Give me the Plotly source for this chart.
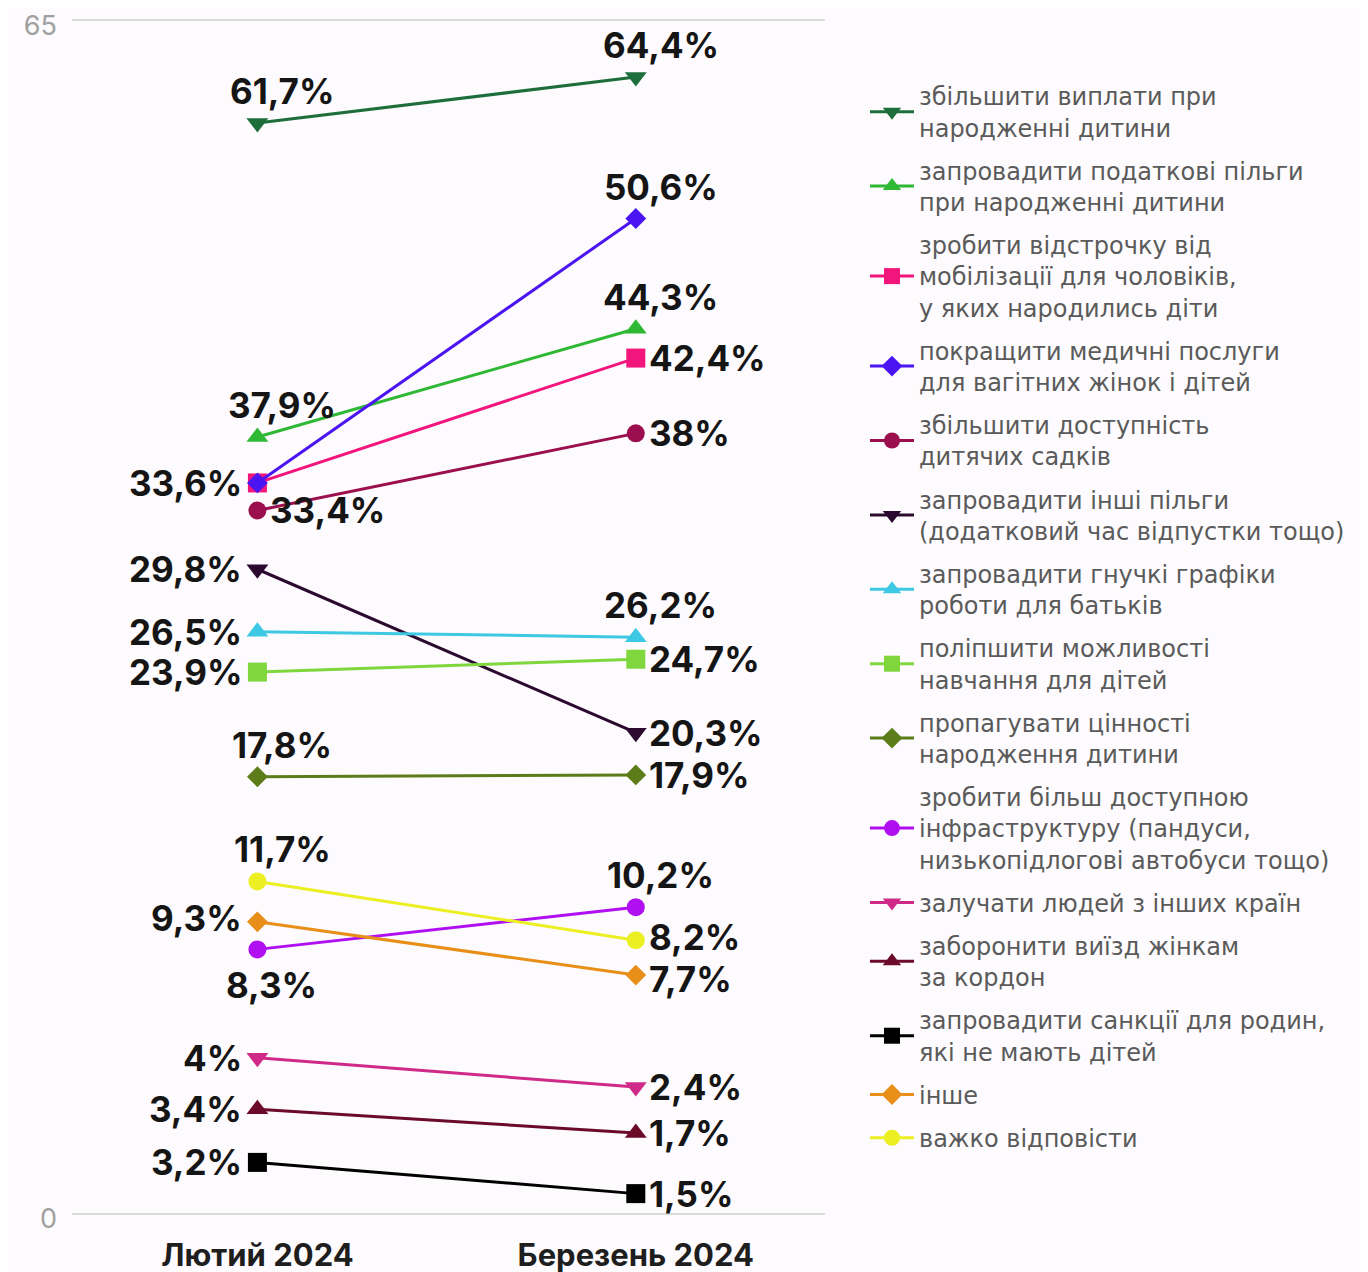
import plotly.graph_objects as go

# ---------------- data ----------------
months = ["Лютий 2024", "Березень 2024"]

series_names = [
    "збільшити виплати при<br>народженні дитини",
    "запровадити податкові пільги<br>при народженні дитини",
    "зробити відстрочку від<br>мобілізації для чоловіків,<br>у яких народились діти",
    "покращити медичні послуги<br>для вагітних жінок і дітей",
    "збільшити доступність<br>дитячих садків",
    "запровадити інші пільги<br>(додатковий час відпустки тощо)",
    "запровадити гнучкі графіки<br>роботи для батьків",
    "поліпшити можливості<br>навчання для дітей",
    "пропагувати цінності<br>народження дитини",
    "зробити більш доступною<br>інфраструктуру (пандуси,<br>низькопідлогові автобуси тощо)",
    "залучати людей з інших країн",
    "заборонити виїзд жінкам<br>за кордон",
    "запровадити санкції для родин,<br>які не мають дітей",
    "інше",
    "важко відповісти",
]

# values printed on the labels (%)
feb_pct = [61.7, 37.9, 33.6, 33.6, 33.4, 29.8, 26.5, 23.9, 17.8, 8.3, 4, 3.4, 3.2, 9.3, 11.7]
mar_pct = [64.4, 44.3, 42.4, 50.6, 38, 20.3, 26.2, 24.7, 17.9, 10.2, 2.4, 1.7, 1.5, 7.7, 8.2]

# heights at which the markers sit on the 0-65 axis of the picture
feb_plot = [59.4, 42.3, 39.8, 39.8, 38.3, 35.1, 31.7, 29.5, 23.8, 14.4, 8.5, 5.7, 2.8, 15.9, 18.1]
mar_plot = [61.9, 48.2, 46.6, 54.2, 42.5, 26.2, 31.4, 30.2, 23.9, 16.7, 6.9, 4.4, 1.1, 13.0, 14.9]

y_ticks = [0, 65]

# ---------------- styles ----------------
colors = ["#1d6e3b", "#2fb834", "#f2157c", "#4b14f2", "#9c0f4f", "#2c0a30",
          "#3dc9e3", "#7fd63d", "#5b7c18", "#b00ff2", "#cf2a88", "#6c0a2a",
          "#000000", "#e88f1a", "#ecef22"]
symbols = ["triangle-down", "triangle-up", "square", "diamond", "circle",
           "triangle-down", "triangle-up", "square", "diamond", "circle",
           "triangle-down", "triangle-up", "square", "diamond", "circle"]
msizes = {"triangle-down": 19, "triangle-up": 19, "square": 19, "diamond": 16, "circle": 18}

# label placement: t = above, b = below, l = left, r = right, None = no label
feb_lab = ["t", "t", "l", None, "r", "l", "l", "l", "t", "b", "l", "l", "l", "l", "t"]
mar_lab = ["t", "t", "r", "t", "r", "r", "t", "r", "r", "t", "r", "r", "r", "r", "r"]
# small vertical nudges (px) for crowded labels: (series index, month index) -> px
nudge = {(14, 1): 3, (13, 1): -4, (13, 0): 4}


def fmt(v):
    if float(v).is_integer():
        return f"{int(v)}%"
    return f"{v}".replace(".", ",") + "%"


fig = go.Figure()
for i, name in enumerate(series_names):
    fig.add_trace(go.Scatter(
        x=months,
        y=[feb_plot[i], mar_plot[i]],
        mode="lines+markers",
        name=name,
        legendgroup=f"g{i}",
        line=dict(color=colors[i], width=3),
        marker=dict(symbol=symbols[i], size=msizes[symbols[i]], color=colors[i]),
        hoverinfo="skip",
    ))

label_font = dict(family="Inter", size=35, color="#151515", weight=700)
place = {
    "t": dict(xanchor="center", yanchor="middle", xshift=25, yshift=32),
    "b": dict(xanchor="center", yanchor="middle", xshift=14, yshift=-36),
    "l": dict(xanchor="right", yanchor="middle", xshift=-14, yshift=0),
    "r": dict(xanchor="left", yanchor="middle", xshift=12, yshift=0),
}
for i in range(len(series_names)):
    for m, (yv, pct, pos) in enumerate(((feb_plot[i], feb_pct[i], feb_lab[i]),
                                        (mar_plot[i], mar_pct[i], mar_lab[i]))):
        if pos is None:
            continue
        p = dict(place[pos])
        p["yshift"] = p["yshift"] + nudge.get((i, m), 0)
        fig.add_annotation(x=months[m], y=yv, xref="x", yref="y", text=fmt(pct),
                           showarrow=False, font=label_font, borderpad=0, **p)

bg = "#fdfbfd"
fig.update_layout(
    width=1360, height=1264,
    paper_bgcolor=bg, plot_bgcolor=bg,
    margin=dict(l=64, r=543, t=3, b=49),
    showlegend=True,
    legend=dict(
        x=1.0531, xanchor="left", y=0.948, yanchor="top",
        font=dict(family="DejaVu Sans", size=24, color="#5a5a5a"),
        tracegroupgap=9, traceorder="grouped",
        itemwidth=44, bgcolor="rgba(0,0,0,0)",
    ),
    xaxis=dict(
        type="category", range=[-0.49, 1.5], automargin=False,
        showgrid=False, zeroline=False, showline=False,
        ticks="", tickfont=dict(family="Inter", size=31, color="#1e1e1e", weight=700),
        ticklabelstandoff=11,
    ),
    yaxis=dict(
        range=[-0.5, 65.5], tickvals=y_ticks, ticktext=[str(v) for v in y_ticks],
        automargin=False,
        showgrid=True, gridcolor="#dcdcdc", gridwidth=2,
        zeroline=False, showline=False, ticks="",
        tickfont=dict(family="Inter", size=27, color="#a0a0a0"),
        ticklabelstandoff=14, ticklabelshift=5, ticklabeloverflow="allow",
    ),
)

fig.write_html("out.html")
